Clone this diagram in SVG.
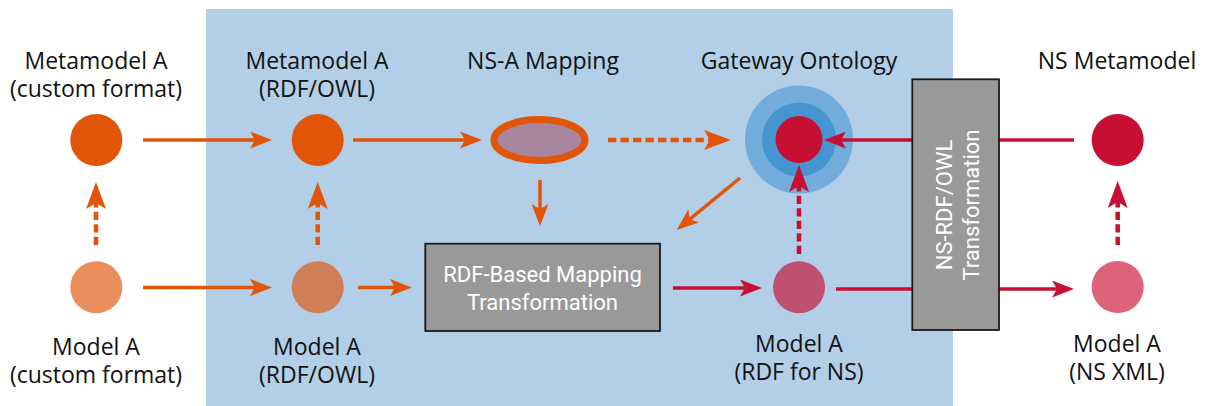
<svg xmlns="http://www.w3.org/2000/svg" width="1205" height="406" viewBox="0 0 1205 406">
<style>
.lbl{font-family:"Open Sans","Noto Sans",sans-serif;font-size:23px;fill:#111;text-anchor:middle}
.box{fill:#999999;stroke:#1a1a1a;stroke-width:1.8}
.btx{font-family:Roboto,"Liberation Sans",sans-serif;font-size:22px;fill:#ffffff;text-anchor:middle}
.os{fill:none;stroke:#e05508;stroke-width:3.5}
.od{fill:none;stroke:#e05508;stroke-width:4.5;stroke-dasharray:8.3 4.2}
.cs{fill:none;stroke:#c70e33;stroke-width:3.5}
.cd{fill:none;stroke:#c70e33;stroke-width:4.5;stroke-dasharray:8.3 4.2}
</style>
<defs>
<marker id="ao" viewBox="0 0 22 17" refX="14" refY="8.5" markerWidth="22" markerHeight="17" markerUnits="userSpaceOnUse" orient="auto"><path d="M0,0 L22,8.5 L0,17 L5,8.5 z" fill="#e05508"/></marker>
<marker id="aob" viewBox="0 0 27 20" refX="17" refY="10" markerWidth="27" markerHeight="20" markerUnits="userSpaceOnUse" orient="auto"><path d="M0,0 L27,10 L0,20 L6,10 z" fill="#e05508"/></marker>
<marker id="ac" viewBox="0 0 22 17" refX="14" refY="8.5" markerWidth="22" markerHeight="17" markerUnits="userSpaceOnUse" orient="auto"><path d="M0,0 L22,8.5 L0,17 L5,8.5 z" fill="#c70e33"/></marker>
<marker id="acb" viewBox="0 0 27 20" refX="17" refY="10" markerWidth="27" markerHeight="20" markerUnits="userSpaceOnUse" orient="auto"><path d="M0,0 L27,10 L0,20 L6,10 z" fill="#c70e33"/></marker>
</defs>
<rect id="platform" x="206" y="9" width="747" height="397" fill="#b3cfe8"/>
<g id="metamodel-a-custom">
<circle cx="96.3" cy="140" r="26" fill="#e05508"/>
<text class="lbl" x="96" y="69">Metamodel A</text>
<text class="lbl" x="96" y="97">(custom format)</text>
</g>
<g id="model-a-custom">
<circle cx="96.3" cy="287.3" r="26" fill="#ea8e5d"/>
<text class="lbl" x="96" y="355">Model A</text>
<text class="lbl" x="96" y="383">(custom format)</text>
</g>
<g id="metamodel-a-rdf">
<circle cx="317.7" cy="140" r="26" fill="#e05508"/>
<text class="lbl" x="317" y="69">Metamodel A</text>
<text class="lbl" x="317" y="97">(RDF/OWL)</text>
</g>
<g id="model-a-rdf">
<circle cx="317.7" cy="287.3" r="26" fill="#d07e56"/>
<text class="lbl" x="317" y="355">Model A</text>
<text class="lbl" x="317" y="383">(RDF/OWL)</text>
</g>
<g id="ns-a-mapping">
<ellipse cx="539.5" cy="140" rx="45.5" ry="20.5" fill="#a8869f" stroke="#e05508" stroke-width="7"/>
<text class="lbl" x="543" y="69">NS-A Mapping</text>
</g>
<g id="gateway-ontology">
<circle cx="799" cy="139.5" r="54" fill="#72acdb"/>
<circle cx="799" cy="139.5" r="37" fill="#4694d0"/>
<circle cx="799" cy="139.5" r="23.5" fill="#c70e33"/>
<text class="lbl" x="799" y="69">Gateway Ontology</text>
</g>
<g id="model-a-rdf-ns">
<circle cx="799" cy="287.3" r="26" fill="#c05070"/>
<text class="lbl" x="799" y="352">Model A</text>
<text class="lbl" x="799" y="380">(RDF for NS)</text>
</g>
<g id="ns-metamodel">
<circle cx="1117.7" cy="140" r="26" fill="#c70e33"/>
<text class="lbl" x="1117" y="69">NS Metamodel</text>
</g>
<g id="model-a-ns-xml">
<circle cx="1117.7" cy="287" r="26" fill="#dc637a"/>
<text class="lbl" x="1117" y="352">Model A</text>
<text class="lbl" x="1117" y="380">(NS XML)</text>
</g>
<g id="connectors">
<path class="os" d="M143,140 H264" marker-end="url(#ao)"/>
<path class="os" d="M143,287.5 H264" marker-end="url(#ao)"/>
<path class="os" d="M353,140 H474" marker-end="url(#ao)"/>
<path class="os" d="M358,287.5 H404" marker-end="url(#ao)"/>
<path class="os" d="M540,180 V218" marker-end="url(#ao)"/>
<path class="os" d="M740,178 L682.9,224.9" marker-end="url(#ao)"/>
<path class="od" d="M608,140 H721" marker-end="url(#aob)"/>
<path class="od" d="M96,245 V192" marker-end="url(#aob)"/>
<path class="od" d="M317.7,245 V192" marker-end="url(#aob)"/>
<path class="cs" d="M673,288 H754" marker-end="url(#ac)"/>
<path class="cs" d="M836,289 H1066" marker-end="url(#ac)"/>
<path class="cs" d="M1074,140 H832" marker-end="url(#ac)"/>
<path class="cd" d="M799,254 V175" marker-end="url(#acb)"/>
<path class="cd" d="M1117.7,245 V191" marker-end="url(#acb)"/>
</g>
<g id="rdf-mapping-transformation">
<rect class="box" x="425.3" y="243.7" width="234.7" height="87.3"/>
<text class="btx" x="542.5" y="282">RDF-Based Mapping</text>
<text class="btx" x="542.5" y="310">Transformation</text>
</g>
<g id="ns-rdf-owl-transformation">
<rect class="box" x="912.3" y="79.3" width="86.7" height="250.7"/>
<text class="btx" transform="translate(951.5,205) rotate(-90)">NS-RDF/OWL</text>
<text class="btx" transform="translate(979,205) rotate(-90)">Transformation</text>
</g>
</svg>
